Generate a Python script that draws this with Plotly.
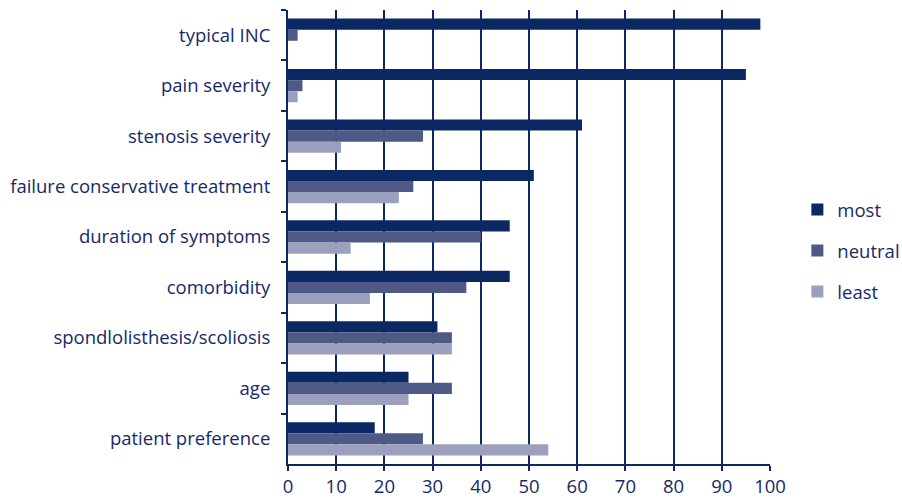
import plotly.graph_objects as go

# Factors and share of respondents (%) rating each as most / neutral / least important
factors = [
    "typical INC",
    "pain severity",
    "stenosis severity",
    "failure conservative treatment",
    "duration of symptoms",
    "comorbidity",
    "spondlolisthesis/scoliosis",
    "age",
    "patient preference",
]
most = [98, 95, 61, 51, 46, 46, 31, 25, 18]
neutral = [2, 3, 28, 26, 40, 37, 34, 34, 28]
least = [0, 2, 11, 23, 13, 17, 34, 25, 54]

x_ticks = list(range(0, 101, 10))

navy = "#0b2862"
text_col = "#15296a"
series = [
    ("most", most, "#0b2862"),
    ("neutral", neutral, "#4f5986"),
    ("least", least, "#9ca0bf"),
]

fig = go.Figure()
for name, vals, col in series:
    fig.add_trace(go.Bar(
        y=factors, x=vals, name=name, orientation="h",
        marker=dict(color=col, line=dict(width=0)),
        legendgroup=name,
    ))

fig.update_layout(
    width=902, height=499,
    margin=dict(l=288, r=132, t=10, b=35, autoexpand=False),
    paper_bgcolor="white", plot_bgcolor="white",
    barmode="group", bargap=0.34, bargroupgap=0,
    font=dict(family="Open Sans, sans-serif", size=18.5, color=text_col),
    legend=dict(
        xref="container", yref="container",
        x=0.884, y=0.497, xanchor="left", yanchor="middle",
        traceorder="grouped", tracegroupgap=14,
        font=dict(size=18.5, color=text_col),
        itemwidth=30,
    ),
    showlegend=True,
)

fig.update_xaxes(
    range=[0, 100], tickvals=x_ticks, ticktext=[str(v) for v in x_ticks],
    showgrid=True, gridcolor=navy, gridwidth=2,
    showline=True, linecolor=navy, linewidth=2,
    ticks="outside", ticklen=5, tickcolor=navy, tickwidth=2,
    ticklabelstandoff=0,
    zeroline=False, fixedrange=True,
)
fig.update_yaxes(
    autorange="reversed", type="category",
    showline=True, linecolor=navy, linewidth=2,
    ticks="outside", ticklen=5, tickcolor=navy, tickwidth=2,
    tickson="boundaries", ticklabelstandoff=12,
    showgrid=False, zeroline=False, fixedrange=True,
)

fig.write_html("out.html")
